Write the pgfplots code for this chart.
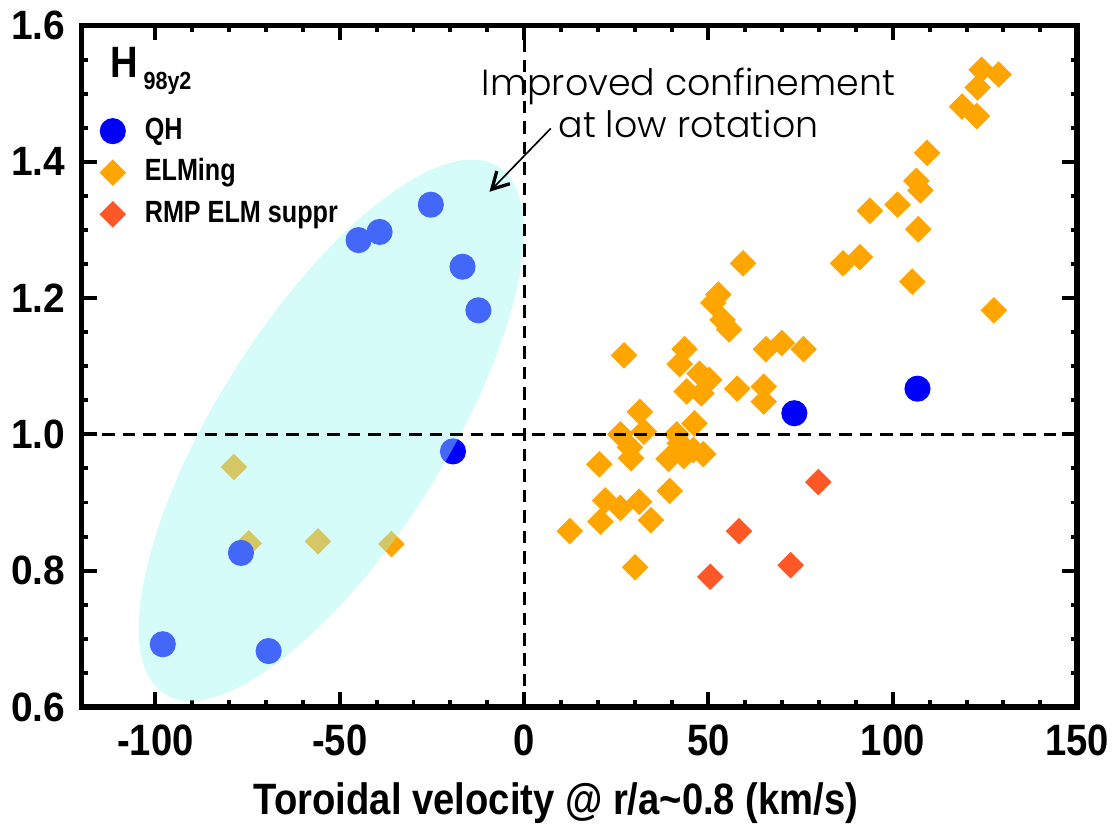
\documentclass[border=0pt]{standalone}
\usepackage{fontspec}
\setmainfont{Liberation Sans}
\newfontfamily\nar[FakeStretch=0.87]{Liberation Sans}
\newfontfamily\nary[FakeStretch=0.95]{Liberation Sans}
\newfontfamily\narl[FakeStretch=0.82]{Liberation Sans}
\newfontfamily\gothic{Poppins Light}
\usepackage{pgfplots}
\pgfplotsset{compat=1.18}
\usetikzlibrary{shapes.geometric,arrows.meta}

\definecolor{qhblue}{RGB}{0,0,255}
\definecolor{elmorange}{RGB}{255,165,0}
\definecolor{rmpred}{RGB}{255,88,38}
\definecolor{ellfill}{rgb}{0.62,0.97,0.95}

\begin{document}
\begin{tikzpicture}
\begin{axis}[
  set layers,
  scale only axis, width=301.5pt, height=206.4pt,
  xmin=-120, xmax=150, ymin=0.6, ymax=1.6,
  xtick={-100,-50,0,50,100,150},
  ytick={0.6,0.8,1.0,1.2,1.4,1.6},
  minor x tick num=4, minor y tick num=3,
  tick align=inside,
  major tick length=4.5pt, minor tick length=2pt,
  every tick/.style={black, line width=1.2pt},
  axis line style={line width=1.6pt},
  /pgf/number format/assume math mode=true,
  xticklabel style={font=\nar\bfseries\fontsize{13.3}{15}\selectfont, yshift=-2pt},
  yticklabel style={font=\nary\bfseries\fontsize{12.4}{14}\selectfont,
    /pgf/number format/fixed, /pgf/number format/fixed zerofill,
    /pgf/number format/precision=1, xshift=-1.5pt},
  xlabel={Toroidal velocity @ r/a\textasciitilde0.8 (km/s)},
  xlabel style={font=\nar\bfseries\fontsize{13.3}{15}\selectfont,
    at={(axis description cs:0.4766,-0.1584)}, anchor=base},
  clip=false,
  legend style={at={(rel axis cs:0.015,0.875)}, anchor=north west,
    draw=none, fill=none, inner sep=0pt, row sep=0.6pt,
    font=\narl\bfseries\fontsize{9.3}{11}\selectfont,
    nodes={inner sep=1.5pt, text height=7pt, text depth=2pt}},
  legend cell align=left,
  legend image code/.code={\path (0pt,0pt) (12.5pt,0pt);
    \draw[#1] plot coordinates {(4.5pt,0pt)};},
]
\addlegendimage{only marks, mark=*, color=qhblue, mark size=3.75pt}
\addlegendentry{QH}
\addlegendimage{only marks, mark=square*, color=elmorange, mark size=2.65pt, mark options={rotate=45}}
\addlegendentry{ELMing}
\addlegendimage{only marks, mark=square*, color=rmpred, mark size=2.65pt, mark options={rotate=45}}
\addlegendentry{RMP ELM suppr}

% ELMing
\addplot[forget plot, only marks, mark=square*, color=elmorange, mark size=2.65pt, mark options={rotate=45}] coordinates {
(124.1,1.535)(128.7,1.528)(123.0,1.509)(118.8,1.481)(122.8,1.467)
(109.3,1.413)(106.4,1.372)(107.5,1.358)(101.3,1.337)(93.8,1.328)
(106.9,1.301)(86.5,1.251)(91.1,1.260)(105.3,1.224)(127.4,1.182)
(59.4,1.251)(52.7,1.205)(51.3,1.193)(53.8,1.168)(55.6,1.154)
(27.1,1.116)(43.5,1.125)(42.2,1.103)(47.6,1.089)(50.2,1.080)
(44.1,1.063)(48.1,1.060)(57.8,1.067)(65.6,1.125)(69.9,1.134)
(75.8,1.125)(65.0,1.070)(65.0,1.048)(31.4,1.033)(46.2,1.016)
(26.1,1.000)(32.5,1.004)(41.4,1.000)(28.7,0.981)(42.2,0.987)
(45.9,0.977)(39.2,0.964)(43.3,0.968)(48.6,0.971)(29.0,0.965)
(20.4,0.956)(39.5,0.917)(22.0,0.903)(26.1,0.892)(31.2,0.901)
(20.7,0.872)(34.4,0.874)(12.4,0.858)(30.1,0.805)
(-78.7,0.952)(-74.7,0.840)(-55.9,0.843)(-36.0,0.839)
};
% RMP ELM suppression
\addplot[forget plot, only marks, mark=square*, color=rmpred, mark size=2.65pt, mark options={rotate=45}] coordinates {
(79.8,0.930)(58.3,0.858)(50.5,0.791)(72.3,0.808)
};
% QH
\addplot[forget plot, only marks, mark=*, color=qhblue, mark size=3.75pt] coordinates {
(-98.0,0.692)(-76.8,0.826)(-69.3,0.682)(-44.9,1.285)(-39.2,1.297)
(-25.3,1.337)(-16.7,1.246)(-12.4,1.182)(-19.3,0.975)(73.3,1.031)
(106.7,1.067)
};

\begin{pgfonlayer}{axis foreground}
% shaded region, laid over the marks
\node[ellipse, fill=ellfill, fill opacity=0.42, draw=none, inner sep=0pt,
  minimum width=189pt, minimum height=69pt, rotate=57.7]
  at (axis cs:-52.3,1.006) {};

\draw[black, line width=0.9pt, dash pattern=on 3.8pt off 2.4pt]
  (axis cs:0,0.6) -- (axis cs:0,1.6);
\draw[black, line width=0.9pt, dash pattern=on 3.8pt off 2.4pt]
  (axis cs:-120,1.0) -- (axis cs:150,1.0);

\node[font=\gothic\fontsize{11}{12}\selectfont, anchor=base, inner sep=0pt]
  at (axis cs:44.6,1.497) {Improved confinement};
\node[font=\gothic\fontsize{11}{12}\selectfont, anchor=base, inner sep=0pt]
  at (axis cs:44.6,1.436) {at low rotation};
\draw[line width=0.5pt, -{Straight Barb[length=5pt,width=5.5pt,line width=1pt]}]
  (axis cs:7.25,1.449) -- (axis cs:-9.4,1.356);

\node[font=\nar\bfseries\fontsize{13.3}{15}\selectfont, anchor=base west, inner sep=0pt]
  at (axis cs:-112.3,1.523) {H};
\node[font=\nar\bfseries\fontsize{7.5}{9}\selectfont, anchor=base west, inner sep=0pt]
  at (axis cs:-103.4,1.506) {98y2};
\end{pgfonlayer}

\path (rel axis cs:-0.0816,-0.1715) rectangle (rel axis cs:1.0328,1.0218);
\end{axis}
\end{tikzpicture}
\end{document}
